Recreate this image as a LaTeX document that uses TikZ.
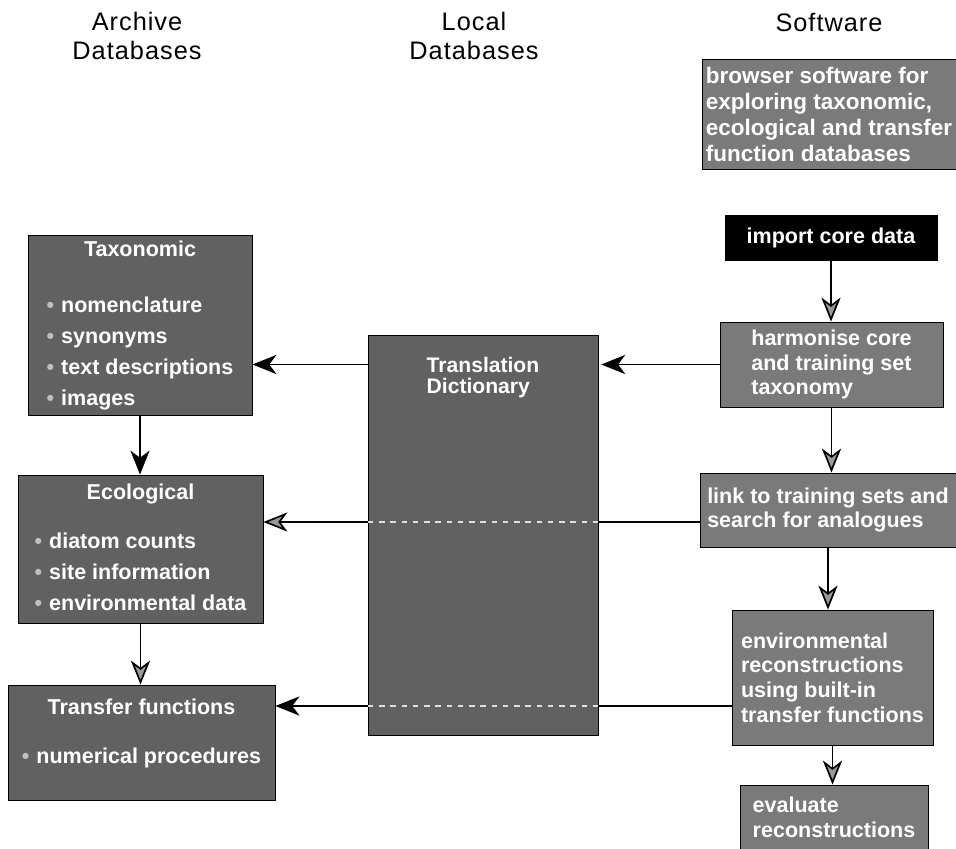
\documentclass[tikz,border=0pt]{standalone}
\usepackage{fontspec}
\setmainfont{Liberation Sans}
\usetikzlibrary{arrows.meta,positioning,calc}
\newcommand{\bul}{\textcolor{black!25}{\textbullet}\hspace{5pt}}

\begin{document}
\begin{tikzpicture}[x=0.025cm,y=-0.025cm]
	\tikzstyle{every node}+=[inner sep=0pt]
	\tikzstyle{head}=[font=\fontsize{18}{20}\selectfont\addfontfeatures{LetterSpace=4}, align=center]
	\tikzstyle{dbbox}=[draw=black, line width=0.6pt, fill=black!62, text=white, font=\bfseries\fontsize{15.3}{22}\selectfont]
	\tikzstyle{swbox}=[draw=black, line width=0.6pt, fill=black!52, text=white, align=left, font=\bfseries\fontsize{15.3}{17.5}\selectfont]
	\tikzstyle{blackarrow}=[line width=1.2pt, -{Stealth[length=0.6cm,width=0.48cm,inset=0.18cm]}]
	\tikzstyle{greyarrow}=[line width=1.2pt, -{Stealth[length=0.6cm,width=0.48cm,inset=0.18cm,fill=black!40]}]
	\tikzstyle{crossing}=[line width=1pt, black!12, dash pattern=on 4pt off 4pt]
	\useasboundingbox (0,0) rectangle (956,849);
	\draw (137,36) node[head] (archive) {Archive\\Databases};
	\draw (474,36) node[head] (local) {Local\\Databases};
	\draw (829,22) node[head] (software) {Software};
	\node[swbox, font=\bfseries\fontsize{16}{18.5}\selectfont, minimum width=6.35cm, minimum height=2.75cm] (browser) at (829,114) {browser software for\\exploring taxonomic,\\ecological and transfer\\function databases};
	\node[swbox, fill=black, minimum width=5.3cm, minimum height=1.125cm] (import) at (831,237.5) {import core data};
	\node[swbox, minimum width=5.575cm, minimum height=2.125cm] (harm) at (831.5,364.5) {harmonise core\\and training set\\taxonomy};
	\node[swbox, minimum width=6.4cm, minimum height=1.85cm] (link) at (828,510) {link to training sets and\\search for analogues};
	\node[swbox, minimum width=5.025cm, minimum height=3.375cm] (env) at (832.5,677.5) {environmental\\reconstructions\\using built-in\\transfer functions};
	\node[swbox, minimum width=4.7cm, minimum height=1.6cm] (eval) at (834,817) {evaluate\\reconstructions};
	\node[dbbox, minimum width=5.75cm, minimum height=10cm] (dict) at (483,535) {};
	\node[font=\bfseries\fontsize{15}{15}\selectfont, text=white, align=left, below=0.55cm of dict.north] (dictname) {Translation\\Dictionary};
	\node[dbbox, minimum width=5.6cm, minimum height=4.35cm] (tax) at (140,325) {\begin{tabular}{@{}l@{}}\multicolumn{1}{@{}c@{}}{Taxonomic}\\[18pt]\bul nomenclature\\ \bul synonyms\\ \bul text descriptions\\ \bul images\end{tabular}};
	\node[dbbox, minimum width=6.125cm, minimum height=3.7cm] (eco) at (140.5,549) {\begin{tabular}{@{}l@{}}\multicolumn{1}{@{}c@{}}{Ecological}\\[13pt]\bul diatom counts\\ \bul site information\\ \bul environmental data\end{tabular}};
	\node[dbbox, minimum width=6.675cm, minimum height=2.875cm] (trans) at (141.5,742.5) {\raisebox{7pt}[\height][\depth]{\begin{tabular}{@{}l@{}}\multicolumn{1}{@{}c@{}}{Transfer functions}\\[13pt]\bul numerical procedures\end{tabular}}};
	\coordinate (linkout) at ($(link.west)+(0,12)$);
	\coordinate (envout) at ($(env.west)+(0,28.5)$);
	\draw[blackarrow, shorten >=2pt] (harm.west) -- (dict.east |- harm.west);
	\draw[blackarrow] (dict.west |- harm.west) -- (tax.east |- harm.west);
	\draw[line width=1.2pt] (linkout) -- (dict.east |- linkout);
	\draw[crossing] (dict.east |- linkout) -- (dict.west |- linkout);
	\draw[greyarrow] (dict.west |- linkout) -- (eco.east |- linkout);
	\draw[line width=1.2pt] (envout) -- (dict.east |- envout);
	\draw[crossing] (dict.east |- envout) -- (dict.west |- envout);
	\draw[blackarrow] (dict.west |- envout) -- (trans.east |- envout);
	\draw[greyarrow] (import.south) -- (import.south |- harm.north);
	\draw[greyarrow] (harm.south) -- (harm.south |- link.north);
	\draw[greyarrow] (link.south) -- (link.south |- env.north);
	\draw[greyarrow] (env.south) -- (env.south |- eval.north);
	\draw[blackarrow] (tax.south) -- (tax.south |- eco.north);
	\draw[greyarrow] (eco.south) -- (eco.south |- trans.north);
\end{tikzpicture}
\end{document}
